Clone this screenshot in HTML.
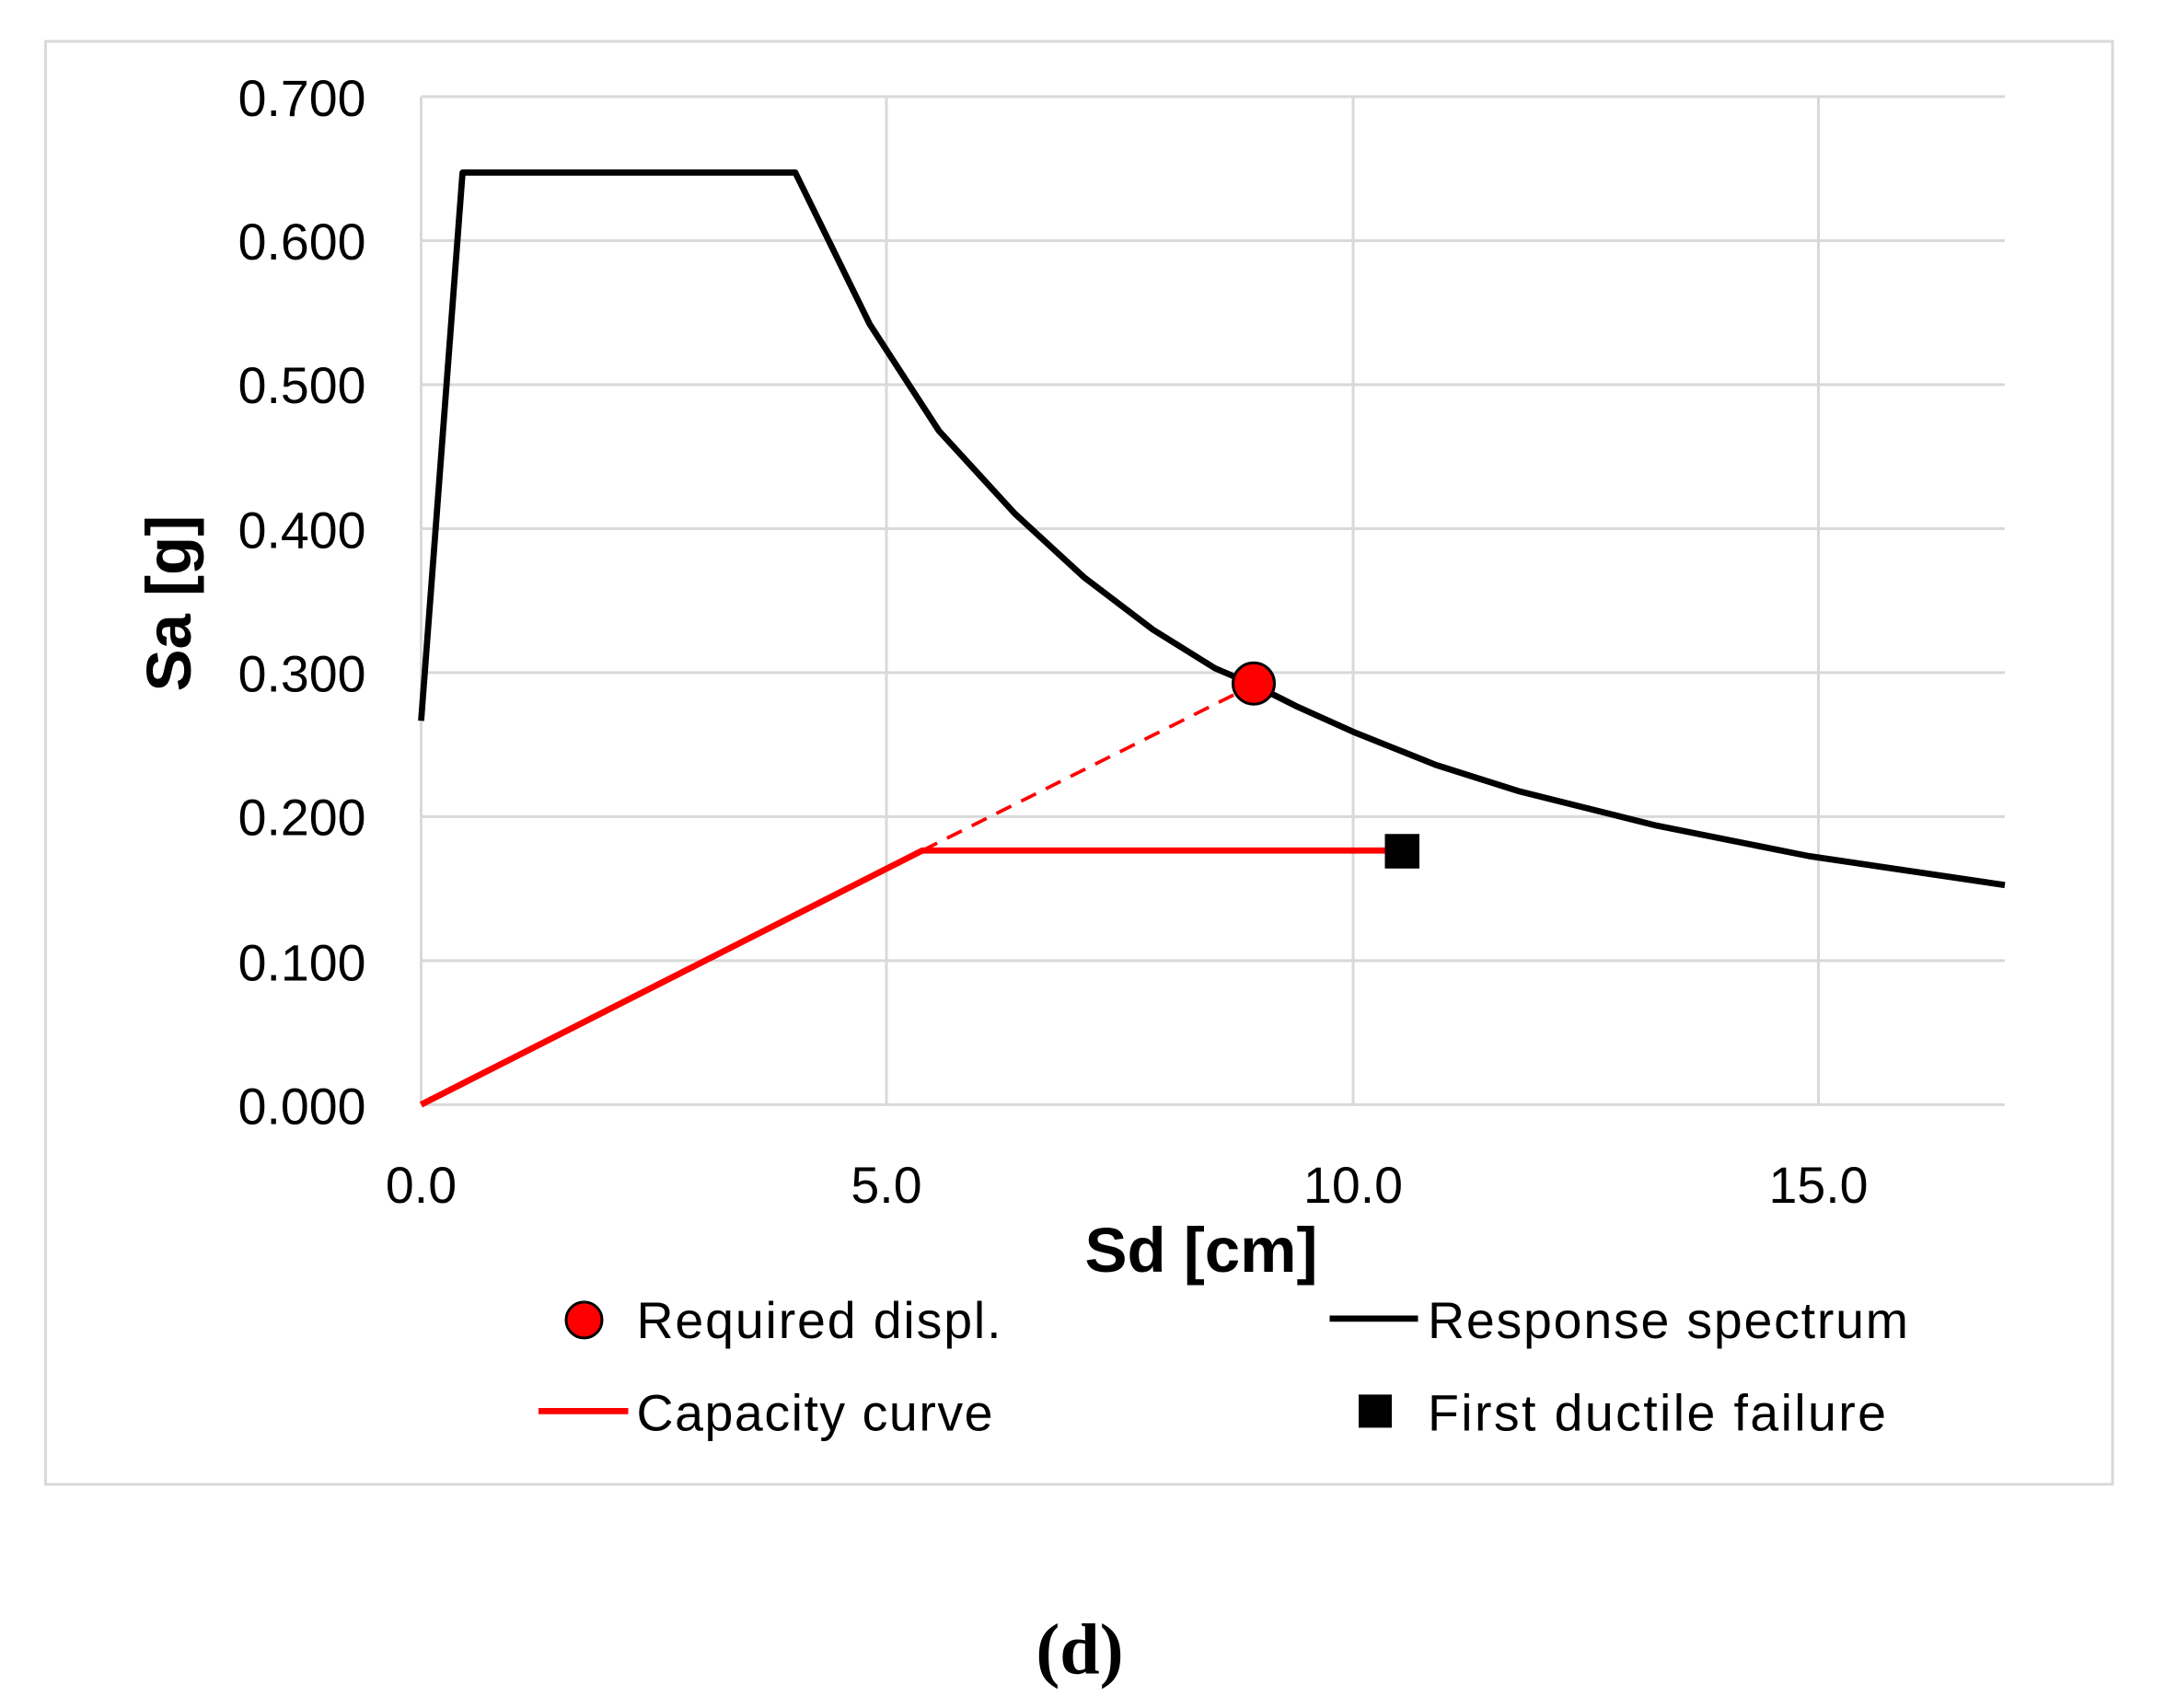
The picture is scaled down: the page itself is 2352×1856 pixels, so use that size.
<!DOCTYPE html>
<html><head><meta charset="utf-8"><style>html,body{margin:0;padding:0;background:#fff}svg{display:block}</style></head>
<body>
<svg width="2352" height="1856" viewBox="0 0 1568 1237" preserveAspectRatio="none" xmlns="http://www.w3.org/2000/svg">
<rect x="33" y="30" width="1497" height="1045" fill="#fff" stroke="#d9d9d9" stroke-width="2"/>
<g stroke="#d9d9d9" stroke-width="2">
<line x1="305" y1="70" x2="1452" y2="70"/>
<line x1="305" y1="174.3" x2="1452" y2="174.3"/>
<line x1="305" y1="278.6" x2="1452" y2="278.6"/>
<line x1="305" y1="382.9" x2="1452" y2="382.9"/>
<line x1="305" y1="487.1" x2="1452" y2="487.1"/>
<line x1="305" y1="591.4" x2="1452" y2="591.4"/>
<line x1="305" y1="695.7" x2="1452" y2="695.7"/>
<line x1="305" y1="800" x2="1452" y2="800"/>
<line x1="305" y1="70" x2="305" y2="800"/>
<line x1="642" y1="70" x2="642" y2="800"/>
<line x1="980" y1="70" x2="980" y2="800"/>
<line x1="1317" y1="70" x2="1317" y2="800"/>
</g>
<g font-family="Liberation Sans, sans-serif" font-size="37" fill="#000" text-anchor="end">
<text x="265" y="84">0.700</text>
<text x="265" y="188">0.600</text>
<text x="265" y="292">0.500</text>
<text x="265" y="397">0.400</text>
<text x="265" y="501">0.300</text>
<text x="265" y="605">0.200</text>
<text x="265" y="710">0.100</text>
<text x="265" y="814">0.000</text>
</g>
<g font-family="Liberation Sans, sans-serif" font-size="37" fill="#000" text-anchor="middle">
<text x="305" y="871">0.0</text>
<text x="642" y="871">5.0</text>
<text x="980" y="871">10.0</text>
<text x="1317" y="871">15.0</text>
</g>
<text x="870" y="921" font-family="Liberation Sans, sans-serif" font-size="46" font-weight="bold" text-anchor="middle">Sd [cm]</text>
<text transform="translate(138,437) rotate(-90)" font-family="Liberation Sans, sans-serif" font-size="46" font-weight="bold" text-anchor="middle">Sa [g]</text>
<polyline fill="none" stroke="#000" stroke-width="4.5" stroke-linejoin="round" points="305,522 335,125 576,125 630,235 680,312 735,372 785,418 835,456 880,484 908,496 940,512 980,530 1040,554 1100,573 1200,598 1310,620 1452,641"/>
<line x1="668" y1="616" x2="908" y2="496" stroke="#ff0000" stroke-width="2.5" stroke-dasharray="12,8"/>
<polyline fill="none" stroke="#ff0000" stroke-width="4.5" points="305,800 668,616 1015,616"/>
<circle cx="908" cy="495" r="15" fill="#ff0000" stroke="#000" stroke-width="2"/>
<rect x="1003" y="604" width="25" height="25" fill="#000"/>
<g font-family="Liberation Sans, sans-serif" font-size="37" fill="#000">
<circle cx="423" cy="956" r="13" fill="#ff0000" stroke="#000" stroke-width="2"/>
<text x="461" y="969" textLength="264">Required displ.</text>
<line x1="963" y1="955" x2="1027" y2="955" stroke="#000" stroke-width="4.5"/>
<text x="1034" y="969" textLength="348">Response spectrum</text>
<line x1="390" y1="1022" x2="455" y2="1022" stroke="#ff0000" stroke-width="4.5"/>
<text x="461" y="1036" textLength="258">Capacity curve</text>
<rect x="984" y="1010" width="24" height="24" fill="#000"/>
<text x="1034" y="1036" textLength="332">First ductile failure</text>
</g>
<text x="782" y="1212" font-family="Liberation Serif, serif" font-size="52" font-weight="bold" text-anchor="middle">(d)</text>
</svg>
</body></html>
